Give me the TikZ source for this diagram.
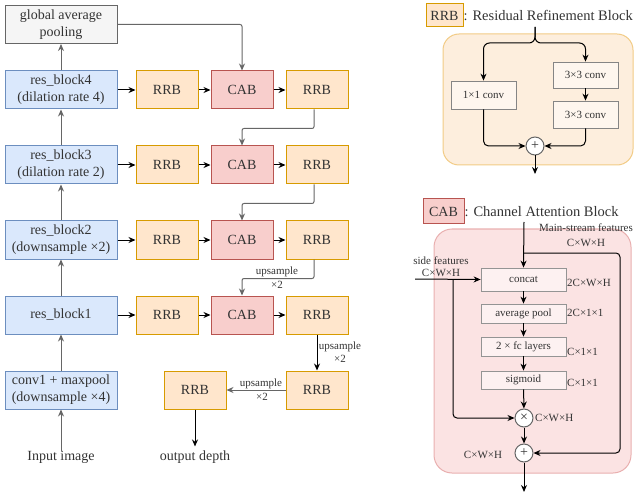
\documentclass[tikz,border=0pt]{standalone}
\usepackage{fontspec}
\setmainfont{Liberation Serif}
\usetikzlibrary{arrows.meta,calc}
\definecolor{bfill}{HTML}{DAE8FC}\definecolor{bdraw}{HTML}{6C8EBF}
\definecolor{ofill}{HTML}{FFE6CC}\definecolor{odraw}{HTML}{D79B00}
\definecolor{rfill}{HTML}{F8CECC}\definecolor{rdraw}{HTML}{B85450}
\definecolor{gfill}{HTML}{F5F5F5}\definecolor{gdraw}{HTML}{666666}
\definecolor{txt}{HTML}{333333}
\definecolor{opanel}{HTML}{FDEEDD}\definecolor{opaneld}{HTML}{F2CB85}
\definecolor{ppanel}{HTML}{FBE3E3}\definecolor{ppaneld}{HTML}{E9AFAF}
\definecolor{oinner}{HTML}{FEF6EE}\definecolor{pinner}{HTML}{FDF1F1}
\begin{document}
\begin{tikzpicture}[x=1pt,y=-1pt,
  every node/.style={text=txt, inner sep=0pt},
  big/.style={font=\fontsize{14}{17}\selectfont},
  small/.style={font=\fontsize{11}{13}\selectfont},
  blk/.style={draw, line width=1pt, big, align=center, minimum width=112pt, minimum height=38pt},
  bbox/.style={blk, fill=bfill, draw=bdraw},
  gbox/.style={blk, fill=gfill, draw=gdraw},
  obox/.style={draw=odraw, fill=ofill, line width=1pt, big, minimum width=62pt, minimum height=38pt},
  rbox/.style={draw=rdraw, fill=rfill, line width=1pt, big, minimum width=62pt, minimum height=38pt},
  ibox/.style={draw=#1, line width=0.8pt, small, minimum width=65pt},
  arr/.style={-{Stealth[length=7pt,width=6pt]}, line width=1pt, draw=black},
  garr/.style={-{Stealth[length=7pt,width=6pt]}, line width=1pt, draw=gdraw},
  circ/.style={circle, draw=gdraw, fill=white, line width=1pt, minimum size=18pt, font=\fontsize{14}{14}\selectfont}
]
\useasboundingbox (0,0) rectangle (637,497);

% ---------- left column ----------
\node[gbox] (gap) at (61,24.5) {global average\\pooling};
\node[bbox] (res4) at (61,90) {res\_block4\\(dilation rate 4)};
\node[bbox] (res3) at (61,165) {res\_block3\\(dilation rate 2)};
\node[bbox] (res2) at (61,240) {res\_block2\\(downsample ×2)};
\node[bbox] (res1) at (61,315) {res\_block1};
\node[bbox] (conv) at (61,390) {conv1 + maxpool\\(downsample ×4)};
\node[big] (inp) at (61,457) {Input image};

\foreach \k/\y in {4/90,3/165,2/240,1/315}{
  \node[obox] (ra\k) at (167,\y) {RRB};
  \node[rbox] (cab\k) at (242,\y) {CAB};
  \node[obox] (rb\k) at (317,\y) {RRB};
  \draw[arr] (res\k) -- (ra\k);
  \draw[arr] (ra\k) -- (cab\k);
  \draw[arr] (cab\k) -- (rb\k);
}
\node[obox] (re1) at (195,390) {RRB};
\node[obox] (re2) at (317,390) {RRB};
\node[big] (outd) at (195,457) {output depth};

\draw[garr] (inp.north) -- (conv.south);
\draw[garr] (conv) -- (res1);
\draw[garr] (res1) -- (res2);
\draw[garr] (res2) -- (res3);
\draw[garr] (res3) -- (res4);
\draw[garr] (res4) -- (gap);

\draw[garr, rounded corners=2pt] (gap.east) -| (cab4.north);
\draw[garr, rounded corners=2pt] ($(rb4.south)+(-3,0)$) -- ++(0,19) -| (cab3.north);
\draw[garr, rounded corners=2pt] ($(rb3.south)+(-3,0)$) -- ++(0,19) -| (cab2.north);
\draw[garr, rounded corners=2pt] ($(rb2.south)+(-3,0)$) -- ++(0,19) -| (cab1.north);
\node[small] (l1) at (277,272) {upsample};
\node[small] (l1b) at (277,285) {×2};
\draw[arr] (rb1.south) -- (re2.north);
\node[small] (l2) at (340,347) {upsample};
\node[small] (l2b) at (340,359) {×2};
\draw[garr] (re2.west) -- (re1.east);
\node[small] (l3) at (261,384) {upsample};
\node[small] (l3b) at (262,397) {×2};
\draw[arr] (re1.south) -- ($(outd.north)+(0,-4)$);

% ---------- RRB legend ----------
\node[draw=odraw, fill=ofill, line width=1pt, big, minimum width=37pt, minimum height=23pt] (rrbL) at (444.5,15.5) {RRB};
\node[font=\fontsize{14.5}{16}\selectfont, anchor=west] (rrbT) at (rrbL.east) {: Residual Refinement Block};
\draw[draw=opaneld, fill=opanel, line width=1pt, rounded corners=16pt] (443,34) rectangle (633,165);
\node[ibox=gdraw!80, fill=oinner, minimum height=28pt] (k1) at (483.5,95) {1×1 conv};
\node[ibox=gdraw!80, fill=oinner, minimum height=26pt] (k3a) at (585.5,75) {3×3 conv};
\node[ibox=gdraw!80, fill=oinner, minimum height=27pt] (k3b) at (585.5,114.5) {3×3 conv};
\node[circ] (pl1) at (535,146) {+};
\coordinate (rtop) at (535,27);
\coordinate (rsplit) at (535,43);
\coordinate (rout) at (535,174);
\draw[arr, rounded corners=6pt] (rtop) -- (rsplit) -| (k1.north);
\draw[arr, rounded corners=6pt] (rtop) -- (rsplit) -| (k3a.north);
\draw[arr] (k3a) -- (k3b);
\draw[arr, rounded corners=5pt] (k1.south) |- (pl1.west);
\draw[arr, rounded corners=5pt] (k3b.south) |- (pl1.east);
\draw[arr] (pl1.south) -- (rout);

% ---------- CAB legend ----------
\node[draw=rdraw, fill=rfill, line width=1pt, big, minimum width=41pt, minimum height=25pt] (cabL) at (443.5,211.5) {CAB};
\node[font=\fontsize{14.5}{16}\selectfont, anchor=west] (cabT) at (cabL.east) {: Channel Attention Block};
\draw[draw=ppaneld, fill=ppanel, line width=1pt, rounded corners=18pt] (434,229) rectangle (631,473);
\node[ibox=gdraw!70, fill=pinner, minimum width=85pt, minimum height=23pt] (cc) at (523.5,279.5) {concat};
\node[ibox=gdraw!70, fill=pinner, minimum width=85pt, minimum height=19pt] (ap) at (523.5,313.5) {average pool};
\node[ibox=gdraw!70, fill=pinner, minimum width=85pt, minimum height=19pt] (fc) at (523.5,346.5) {2 × fc layers};
\node[ibox=gdraw!70, fill=pinner, minimum width=85pt, minimum height=18pt] (sg) at (523.5,380) {sigmoid};
\node[circ] (tm) at (524,418) {×};
\node[circ] (pl2) at (524,453) {+};
\coordinate (mtop) at (524,222);
\coordinate (msplit) at (524,253);
\coordinate (sin) at (415,279);
\coordinate (ssplit) at (453,279);
\coordinate (cout) at (524,492);
\draw[arr] (mtop) -- (cc.north);
\draw[arr, rounded corners=4pt] (msplit) -- (620,253) |- (pl2.east);
\draw[arr] (sin) -- (cc.west);
\draw[arr, rounded corners=4pt] (ssplit) |- (tm.west);
\draw[arr] (cc) -- (ap);
\draw[arr] (ap) -- (fc);
\draw[arr] (fc) -- (sg);
\draw[arr] (sg) -- (tm);
\draw[arr] (tm) -- (pl2);
\draw[arr] (pl2.south) -- (cout);

\node[small] (msl) at (586,228) {Main-stream features};
\node[small] (msl2) at (586,243) {C×W×H};
\node[small] (sfl) at (441,261) {side features};
\node[small] (sfl2) at (441,273) {C×W×H};
\node[small, anchor=west] (d1) at (567,283) {2C×W×H};
\node[small, anchor=west] (d2) at (567,313) {2C×1×1};
\node[small, anchor=west] (d3) at (567,352) {C×1×1};
\node[small, anchor=west] (d4) at (567,383) {C×1×1};
\node[small, anchor=west] (d5) at (535,418) {C×W×H};
\node[small] (d6) at (483,455) {C×W×H};
\end{tikzpicture}
\end{document}
